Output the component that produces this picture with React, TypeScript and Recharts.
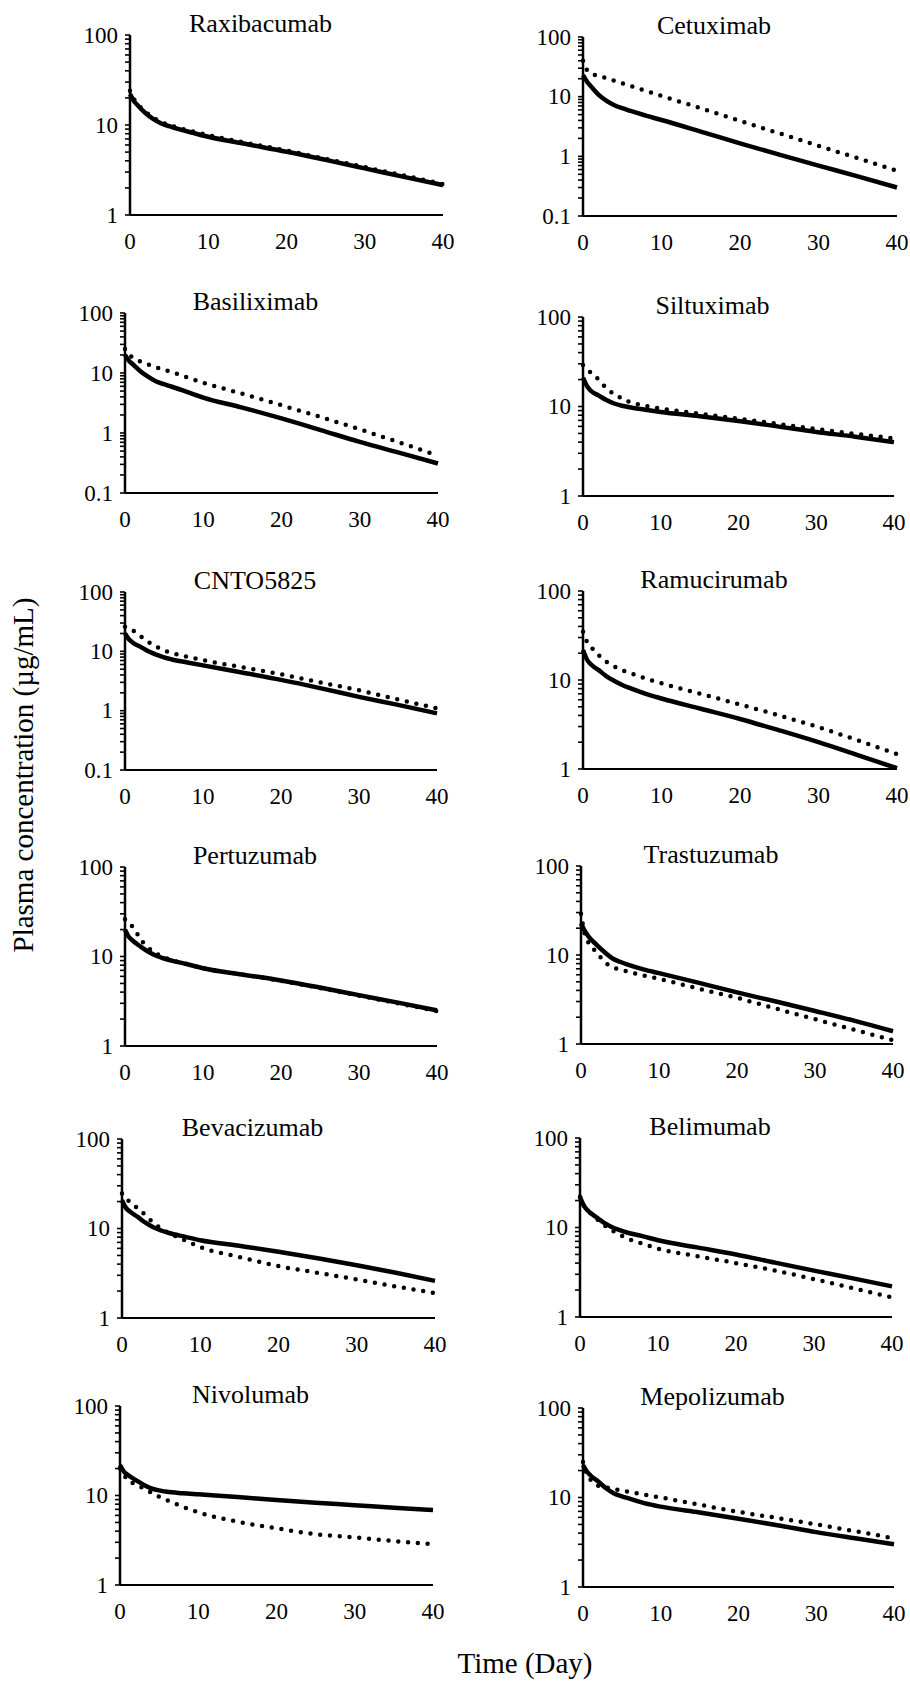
import React from "react";
import { LineChart, Line, XAxis, YAxis } from "recharts";

// ---------- data ----------
const DAYS = [0, 0.5, 1, 2, 3, 4, 5, 6, 8, 10, 15, 20, 25, 30, 35, 40];
const X_TICKS = [0, 10, 20, 30, 40];
const Y_TICKS_1_100 = [1, 2, 3, 4, 5, 6, 7, 8, 9, 10, 20, 30, 40, 50, 60, 70, 80, 90, 100];
const Y_TICKS_01_100 = [0.1, 0.2, 0.3, 0.4, 0.5, 0.6, 0.7, 0.8, 0.9, 1, 2, 3, 4, 5, 6, 7, 8, 9, 10, 20, 30, 40, 50, 60, 70, 80, 90, 100];

const TITLES = [
  "Raxibacumab", "Cetuximab",
  "Basiliximab", "Siltuximab",
  "CNTO5825", "Ramucirumab",
  "Pertuzumab", "Trastuzumab",
  "Bevacizumab", "Belimumab",
  "Nivolumab", "Mepolizumab",
];

const Y_MIN = [1, 0.1, 0.1, 1, 0.1, 1, 1, 1, 1, 1, 1, 1];

const RAXIBACUMAB_SOLID = [22, 18.5, 16.5, 13.5, 11.6, 10.4, 9.7, 9.1, 8.2, 7.4, 6.1, 5.05, 4.1, 3.3, 2.65, 2.15];
const RAXIBACUMAB_DOTTED = [24, 19.5, 17, 14, 12, 10.8, 10.0, 9.4, 8.5, 7.7, 6.3, 5.2, 4.2, 3.4, 2.75, 2.2];
const CETUXIMAB_SOLID = [23, 18, 15, 10.7, 8.5, 7.2, 6.4, 5.8, 4.8, 4.06, 2.6, 1.65, 1.07, 0.70, 0.46, 0.30];
const CETUXIMAB_DOTTED = [40, 28, 24.6, 22.3, 20.3, 18.4, 16.7, 15.2, 12.5, 10.3, 6.4, 3.94, 2.43, 1.5, 0.93, 0.57];
const BASILIXIMAB_SOLID = [20, 16, 14, 10.6, 8.6, 7.2, 6.5, 5.9, 4.8, 3.9, 2.65, 1.75, 1.12, 0.71, 0.47, 0.31];
const BASILIXIMAB_DOTTED = [25, 20, 18.4, 15.5, 13.8, 12.4, 11.3, 10.3, 8.4, 6.9, 4.5, 2.9, 1.85, 1.15, 0.7, 0.42];
const SILTUXIMAB_SOLID = [21, 17, 15, 13.3, 11.8, 10.8, 10.2, 9.8, 9.2, 8.7, 7.8, 6.9, 6.0, 5.2, 4.6, 4.0];
const SILTUXIMAB_DOTTED = [29, 26, 24, 20, 16, 13.8, 12.3, 11.2, 10.2, 9.5, 8.3, 7.3, 6.4, 5.6, 4.95, 4.4];
const CNTO5825_SOLID = [20, 16, 14, 11.9, 10, 8.8, 7.9, 7.3, 6.5, 5.8, 4.4, 3.3, 2.4, 1.71, 1.25, 0.9];
const CNTO5825_DOTTED = [26, 24, 22.6, 18, 14.4, 12, 10.4, 9.4, 8.1, 7.1, 5.4, 4.1, 3.0, 2.2, 1.55, 1.09];
const RAMUCIRUMAB_SOLID = [21.7, 17, 15, 12.9, 11, 9.75, 8.8, 8.1, 7.0, 6.2, 4.75, 3.65, 2.72, 2.0, 1.43, 1.02];
const RAMUCIRUMAB_DOTTED = [34.8, 27, 23.6, 19, 16, 14.2, 12.9, 12.0, 10.4, 9.2, 7.0, 5.3, 4.0, 2.95, 2.1, 1.47];
const PERTUZUMAB_SOLID = [19.9, 16.5, 15, 12.9, 11.3, 10.2, 9.5, 9.0, 8.2, 7.4, 6.3, 5.4, 4.5, 3.7, 3.05, 2.5];
const PERTUZUMAB_DOTTED = [26, 23, 21.5, 15.5, 12.5, 10.8, 9.8, 9.1, 8.2, 7.4, 6.3, 5.35, 4.45, 3.65, 3.0, 2.45];
const TRASTUZUMAB_SOLID = [22.7, 18.5, 16, 13, 10.8, 9.2, 8.4, 7.8, 6.9, 6.25, 4.9, 3.8, 3.0, 2.35, 1.83, 1.39];
const TRASTUZUMAB_DOTTED = [29, 17, 13.6, 10.7, 8.4, 7.3, 6.9, 6.5, 5.9, 5.4, 4.2, 3.3, 2.5, 1.9, 1.45, 1.1];
const BEVACIZUMAB_SOLID = [20.8, 17, 15.5, 13.5, 11.6, 10.3, 9.5, 8.9, 8.1, 7.4, 6.4, 5.5, 4.65, 3.88, 3.2, 2.6];
const BEVACIZUMAB_DOTTED = [24.6, 21.5, 19.9, 16.8, 14.1, 11.6, 10, 8.9, 7.4, 6.2, 4.8, 3.8, 3.2, 2.7, 2.25, 1.9];
const BELIMUMAB_SOLID = [22, 17.5, 15.5, 13.2, 11.4, 10.2, 9.4, 8.8, 8.0, 7.2, 6.0, 5.0, 4.05, 3.3, 2.7, 2.2];
const BELIMUMAB_DOTTED = [22, 17.5, 15.5, 12.8, 10.8, 9.4, 8.4, 7.6, 6.6, 5.8, 4.8, 4.0, 3.3, 2.65, 2.1, 1.65];
const NIVOLUMAB_SOLID = [21.9, 18.5, 17, 14.9, 13.2, 12, 11.4, 11, 10.6, 10.3, 9.6, 8.9, 8.3, 7.8, 7.3, 6.9];
const NIVOLUMAB_DOTTED = [20, 17, 14.9, 13.3, 12, 10.8, 9.7, 8.9, 7.5, 6.5, 5.1, 4.3, 3.7, 3.4, 3.1, 2.85];
const MEPOLIZUMAB_SOLID = [23, 19.5, 17.5, 15, 12.6, 11.1, 10.3, 9.7, 8.6, 7.9, 6.8, 5.8, 4.9, 4.1, 3.5, 3.0];
const MEPOLIZUMAB_DOTTED = [25, 18, 15.7, 13.5, 13.0, 12.4, 11.9, 11.5, 10.7, 10.0, 8.3, 6.9, 5.9, 5.0, 4.2, 3.5];

const SOLID = [
  RAXIBACUMAB_SOLID, CETUXIMAB_SOLID, BASILIXIMAB_SOLID, SILTUXIMAB_SOLID,
  CNTO5825_SOLID, RAMUCIRUMAB_SOLID, PERTUZUMAB_SOLID, TRASTUZUMAB_SOLID,
  BEVACIZUMAB_SOLID, BELIMUMAB_SOLID, NIVOLUMAB_SOLID, MEPOLIZUMAB_SOLID,
];
const DOTTED = [
  RAXIBACUMAB_DOTTED, CETUXIMAB_DOTTED, BASILIXIMAB_DOTTED, SILTUXIMAB_DOTTED,
  CNTO5825_DOTTED, RAMUCIRUMAB_DOTTED, PERTUZUMAB_DOTTED, TRASTUZUMAB_DOTTED,
  BEVACIZUMAB_DOTTED, BELIMUMAB_DOTTED, NIVOLUMAB_DOTTED, MEPOLIZUMAB_DOTTED,
];

// ---------- layout (plot area in page pixels) ----------
const PANEL_POS = [
  { l: 130, t: 35, w: 313, h: 180 },
  { l: 583, t: 37, w: 314, h: 179 },
  { l: 125, t: 313, w: 313, h: 180 },
  { l: 583, t: 317, w: 311, h: 179 },
  { l: 125, t: 592, w: 312, h: 178 },
  { l: 583, t: 591, w: 314, h: 178 },
  { l: 125, t: 867, w: 312, h: 179 },
  { l: 581, t: 866, w: 312, h: 178 },
  { l: 122, t: 1139, w: 313, h: 179 },
  { l: 580, t: 1138, w: 312, h: 179 },
  { l: 120, t: 1406, w: 313, h: 179 },
  { l: 583, t: 1408, w: 311, h: 179 },
];

const FONT = "'Liberation Serif', 'Times New Roman', serif";
const TICK_FONT = 23;
const Y_AXIS_W = 70;
const TOP_PAD = 22;
const X_AXIS_H = 44;
const RIGHT_PAD = 24;

const YTick = (props: any) => {
  const { x, y, payload } = props;
  const v = payload.value;
  const lg = Math.log10(v);
  if (Math.abs(lg - Math.round(lg)) > 1e-6) return <g />;
  return (
    <text x={x} y={y} dy="0.34em" textAnchor="end" fontSize={TICK_FONT} fontFamily={FONT} fill="#000">
      {String(v)}
    </text>
  );
};

const Panel = ({ idx }: { idx: number }) => {
  const pos = PANEL_POS[idx];
  const data = DAYS.map((d, i) => ({ day: d, solid: SOLID[idx][i], dotted: DOTTED[idx][i] }));
  const yMin = Y_MIN[idx];
  const ticks = yMin < 1 ? Y_TICKS_01_100 : Y_TICKS_1_100;
  const width = Y_AXIS_W + pos.w + RIGHT_PAD;
  const height = TOP_PAD + pos.h + X_AXIS_H;
  return (
    <div style={{ position: "absolute", left: pos.l - Y_AXIS_W, top: pos.t - TOP_PAD, width, height }}>
      <LineChart width={width} height={height} data={data} margin={{ top: TOP_PAD, right: RIGHT_PAD, bottom: 0, left: 0 }}>
        <XAxis
          dataKey="day"
          type="number"
          domain={[0, 40]}
          ticks={X_TICKS}
          interval={0}
          height={X_AXIS_H}
          tickLine={false}
          tickSize={0}
          tickMargin={18}
          axisLine={{ stroke: "#000", strokeWidth: 2 }}
          tick={{ fontSize: TICK_FONT, fontFamily: FONT, fill: "#000" }}
        />
        <YAxis
          type="number"
          scale="log"
          domain={[yMin, 100]}
          ticks={ticks}
          interval={0}
          width={Y_AXIS_W}
          allowDataOverflow
          tickSize={5}
          tickMargin={7}
          tickLine={{ stroke: "#000", strokeWidth: 1.6 }}
          axisLine={{ stroke: "#000", strokeWidth: 2.5 }}
          tick={<YTick />}
        />
        <Line
          dataKey="dotted"
          type="monotone"
          stroke="#000"
          strokeWidth={4.5}
          strokeDasharray="0 9.8"
          strokeLinecap="round"
          dot={false}
          isAnimationActive={false}
        />
        <Line
          dataKey="solid"
          type="monotone"
          stroke="#000"
          strokeWidth={4.5}
          dot={false}
          isAnimationActive={false}
        />
      </LineChart>
    </div>
  );
};

export default function App() {
  return (
    <div style={{ position: "absolute", left: 0, top: 0, width: 910, height: 1684, background: "#fff", overflow: "hidden" }}>
      {TITLES.map((_, i) => (
        <Panel key={i} idx={i} />
      ))}
      <svg width={910} height={1684} style={{ position: "absolute", left: 0, top: 0, pointerEvents: "none" }}>
        {TITLES.map((t, i) => {
          const p = PANEL_POS[i];
          return (
            <text key={t} x={p.l + p.w / 2 - 26} y={p.t - 3} textAnchor="middle" fontSize={26} fontFamily={FONT} fill="#000">
              {t}
            </text>
          );
        })}
        <text
          x={0}
          y={0}
          transform="translate(33, 775) rotate(-90)"
          textAnchor="middle"
          fontSize={29}
          fontFamily={FONT}
          fill="#000"
        >
          Plasma concentration (µg/mL)
        </text>
        <text x={525} y={1673} textAnchor="middle" fontSize={29} fontFamily={FONT} fill="#000">
          Time (Day)
        </text>
      </svg>
    </div>
  );
}
